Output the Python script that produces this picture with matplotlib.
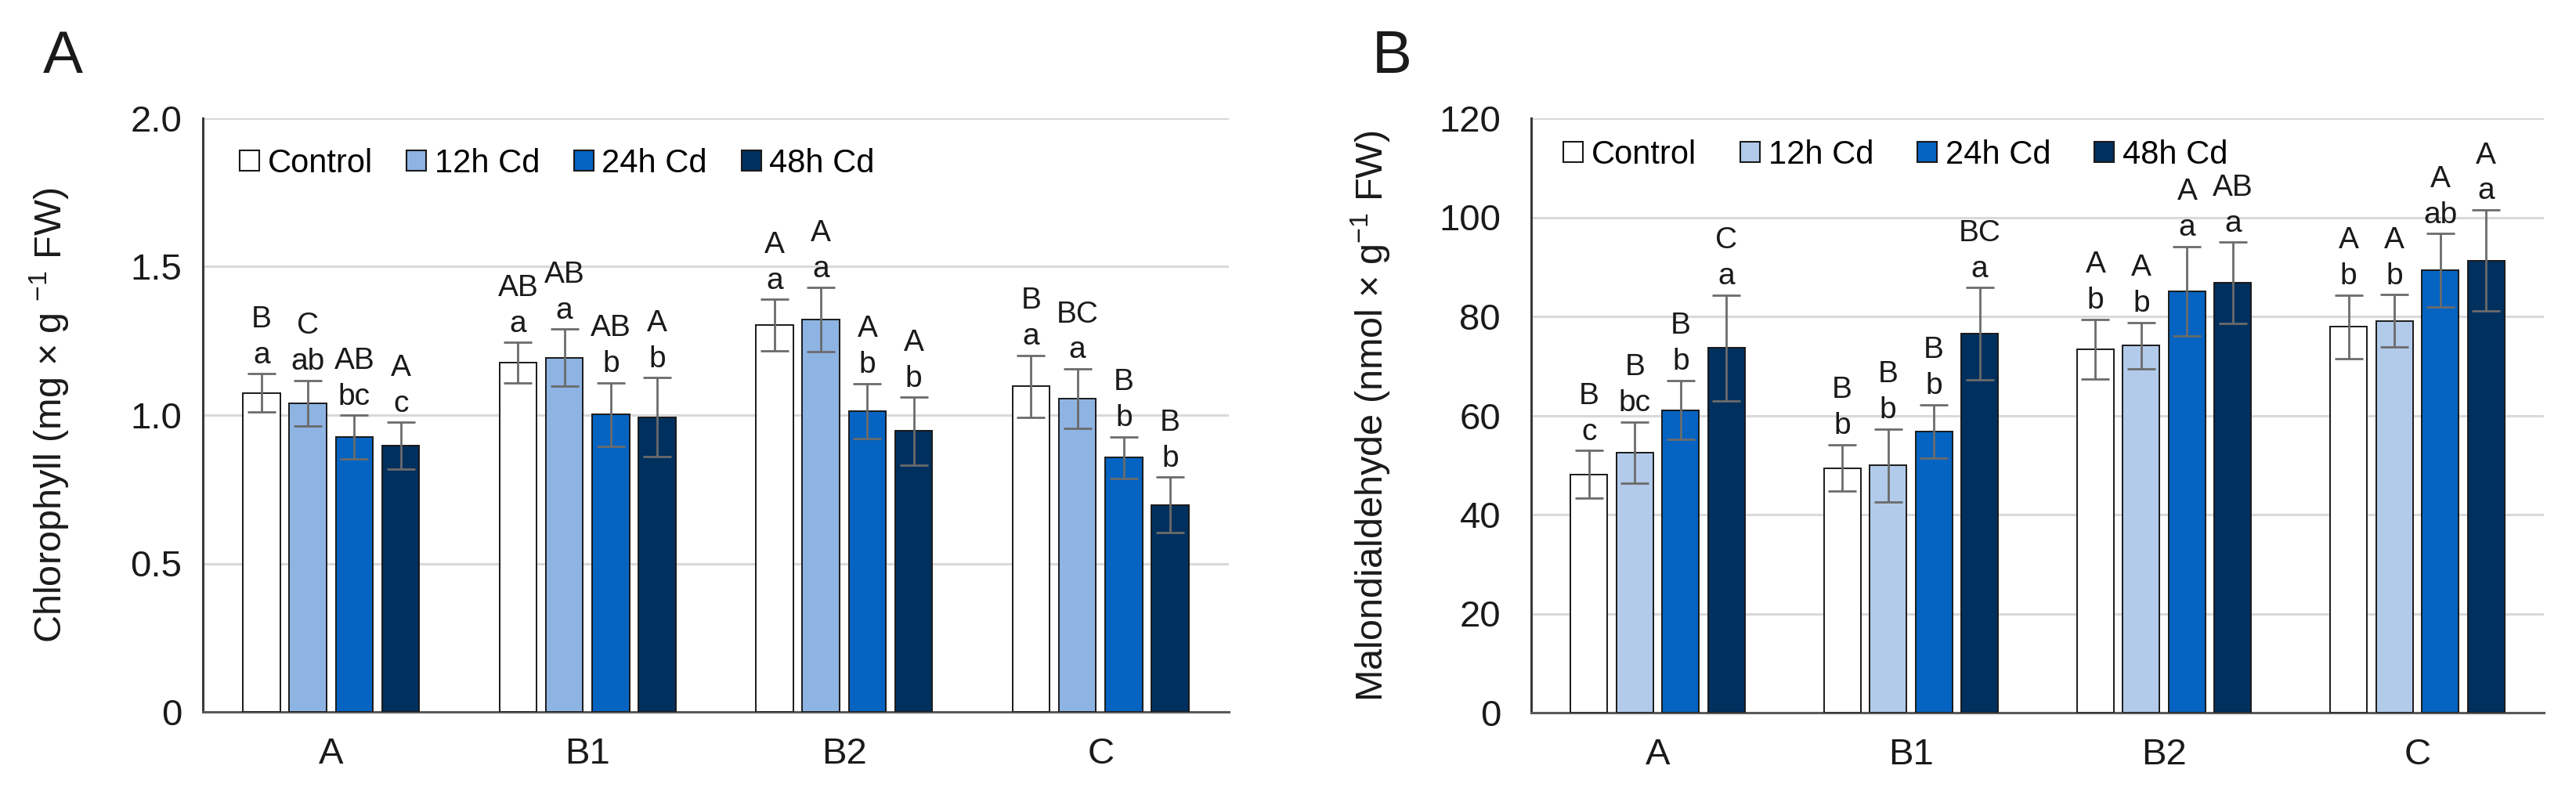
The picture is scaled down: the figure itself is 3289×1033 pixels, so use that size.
import matplotlib
matplotlib.use("Agg")
import matplotlib.pyplot as plt
from matplotlib.patches import Patch
import numpy as np

plt.rcParams['font.family'] = ['Liberation Sans', 'DejaVu Sans']
plt.rcParams['mathtext.fontset'] = 'custom'
plt.rcParams['mathtext.rm'] = 'Liberation Sans'
plt.rcParams['mathtext.it'] = 'Liberation Sans:italic'
plt.rcParams['mathtext.bf'] = 'Liberation Sans:bold'

# ---------------- data ----------------
categories = ["A", "B1", "B2", "C"]
series = ["Control", "12h Cd", "24h Cd", "48h Cd"]

chl_control = [1.075, 1.177, 1.303, 1.097]
chl_12h = [1.040, 1.193, 1.322, 1.056]
chl_24h = [0.925, 1.002, 1.014, 0.857]
chl_48h = [0.897, 0.993, 0.946, 0.697]
chl_err_control = [0.064, 0.068, 0.087, 0.104]
chl_err_12h = [0.077, 0.096, 0.107, 0.100]
chl_err_24h = [0.074, 0.107, 0.092, 0.070]
chl_err_48h = [0.079, 0.133, 0.114, 0.094]
chl_upper = [["B", "AB", "A", "B"], ["C", "AB", "A", "BC"], ["AB", "AB", "A", "B"], ["A", "A", "A", "B"]]
chl_lower = [["a", "a", "a", "a"], ["ab", "a", "a", "a"], ["bc", "b", "b", "b"], ["c", "b", "b", "b"]]

mda_control = [48.1, 49.4, 73.4, 77.9]
mda_12h = [52.5, 49.9, 74.1, 79.1]
mda_24h = [61.1, 56.8, 85.1, 89.3]
mda_48h = [73.6, 76.5, 86.8, 91.3]
mda_err_control = [4.8, 4.7, 6.0, 6.4]
mda_err_12h = [6.2, 7.4, 4.7, 5.3]
mda_err_24h = [6.0, 5.4, 9.0, 7.4]
mda_err_48h = [10.7, 9.3, 8.2, 10.2]
mda_upper = [["B", "B", "A", "A"], ["B", "B", "A", "A"], ["B", "B", "A", "A"], ["C", "BC", "AB", "A"]]
mda_lower = [["c", "b", "b", "b"], ["bc", "b", "b", "b"], ["b", "b", "a", "ab"], ["a", "a", "a", "a"]]

chl_yticks = [0, 0.5, 1.0, 1.5, 2.0]
chl_yticklabels = ["0", "0.5", "1.0", "1.5", "2.0"]
mda_yticks = [0, 20, 40, 60, 80, 100, 120]
mda_yticklabels = ["0", "20", "40", "60", "80", "100", "120"]

colors_A = ["#FFFFFF", "#8EB4E3", "#0563C1", "#00305E"]
colors_B = ["#FFFFFF", "#B2CBEA", "#0563C1", "#00305E"]

# ---------------- figure ----------------
W, H = 3289, 1033
fig = plt.figure(figsize=(W / 100, H / 100), dpi=100)

axA = fig.add_axes([259 / W, 1 - 909 / H, 1310 / W, 758 / H])
axB = fig.add_axes([1955 / W, 1 - 910 / H, 1293 / W, 759 / H])


def draw(ax, vals, errs, uppers, lowers, colors, ylim, yticks, yticklabels,
         ylabel, ylabel_x, tickpad, legend_x, legend_y, colspace, annot_fs, offset):
    x = np.arange(len(categories))
    width = 0.145
    step = 0.181
    for i in range(4):
        pos = x + (i - 1.5) * step
        ax.bar(pos, vals[i], width, color=colors[i], edgecolor="#1a1a1a",
               linewidth=1.4, zorder=3)
        ax.errorbar(pos, vals[i], yerr=errs[i], fmt="none", ecolor="#6b6b6b",
                    elinewidth=2.0, capsize=13, capthick=2.0, zorder=4)
        for j in range(len(categories)):
            top = vals[i][j] + errs[i][j]
            ax.annotate(uppers[i][j] + "\n" + lowers[i][j], xy=(pos[j], top),
                        xytext=(0, offset), textcoords="offset points",
                        ha="center", va="bottom", fontsize=annot_fs,
                        linespacing=1.35, color="#1a1a1a", zorder=5)
    ax.set_xlim(-0.5, 3.5)
    ax.set_ylim(*ylim)
    ax.set_yticks(yticks)
    ax.set_yticklabels(yticklabels)
    ax.set_xticks(x)
    ax.set_xticklabels(categories)
    ax.tick_params(axis="both", length=0, labelsize=34, colors="#1a1a1a")
    ax.tick_params(axis="y", pad=tickpad)
    ax.tick_params(axis="x", pad=23)
    ax.yaxis.grid(True, color="#D9D9D9", linewidth=2.2, zorder=0)
    ax.set_axisbelow(True)
    for s in ["top", "right"]:
        ax.spines[s].set_visible(False)
    ax.spines["left"].set_color("#3a3a3a")
    ax.spines["left"].set_linewidth(2.2)
    ax.spines["bottom"].set_color("#5a5a5a")
    ax.spines["bottom"].set_linewidth(2.2)
    ax.set_ylabel(ylabel, fontsize=35, color="#1a1a1a")
    ax.yaxis.set_label_coords(ylabel_x, 0.5)
    handles = [Patch(facecolor=c, edgecolor="#1a1a1a", linewidth=1.5) for c in colors]
    ax.legend(handles, series, ncol=4, loc="upper left",
              bbox_to_anchor=(legend_x, legend_y), frameon=False, fontsize=30,
              handlelength=0.6, handleheight=0.6, handletextpad=0.25,
              columnspacing=colspace, borderpad=0, borderaxespad=0)


draw(axA,
     [chl_control, chl_12h, chl_24h, chl_48h],
     [chl_err_control, chl_err_12h, chl_err_24h, chl_err_48h],
     chl_upper, chl_lower, colors_A, (0, 2.0), chl_yticks, chl_yticklabels,
     "Chlorophyll (mg × g $^{-1}$ FW)", -0.128, 19, 0.036, 0.95, 1.05, 28, 4)

draw(axB,
     [mda_control, mda_12h, mda_24h, mda_48h],
     [mda_err_control, mda_err_12h, mda_err_24h, mda_err_48h],
     mda_upper, mda_lower, colors_B, (0, 120), mda_yticks, mda_yticklabels,
     "Malondialdehyde (nmol × g$^{-1}$ FW)", -0.137, 28, 0.032, 0.965, 1.35, 28, 4)

fig.text(55 / W, 1 - 93 / H, "A", fontsize=55, ha="left", va="baseline", color="#1a1a1a")
fig.text(1752 / W, 1 - 93 / H, "B", fontsize=55, ha="left", va="baseline", color="#1a1a1a")

fig.savefig("out.png", dpi=100, facecolor="white")
